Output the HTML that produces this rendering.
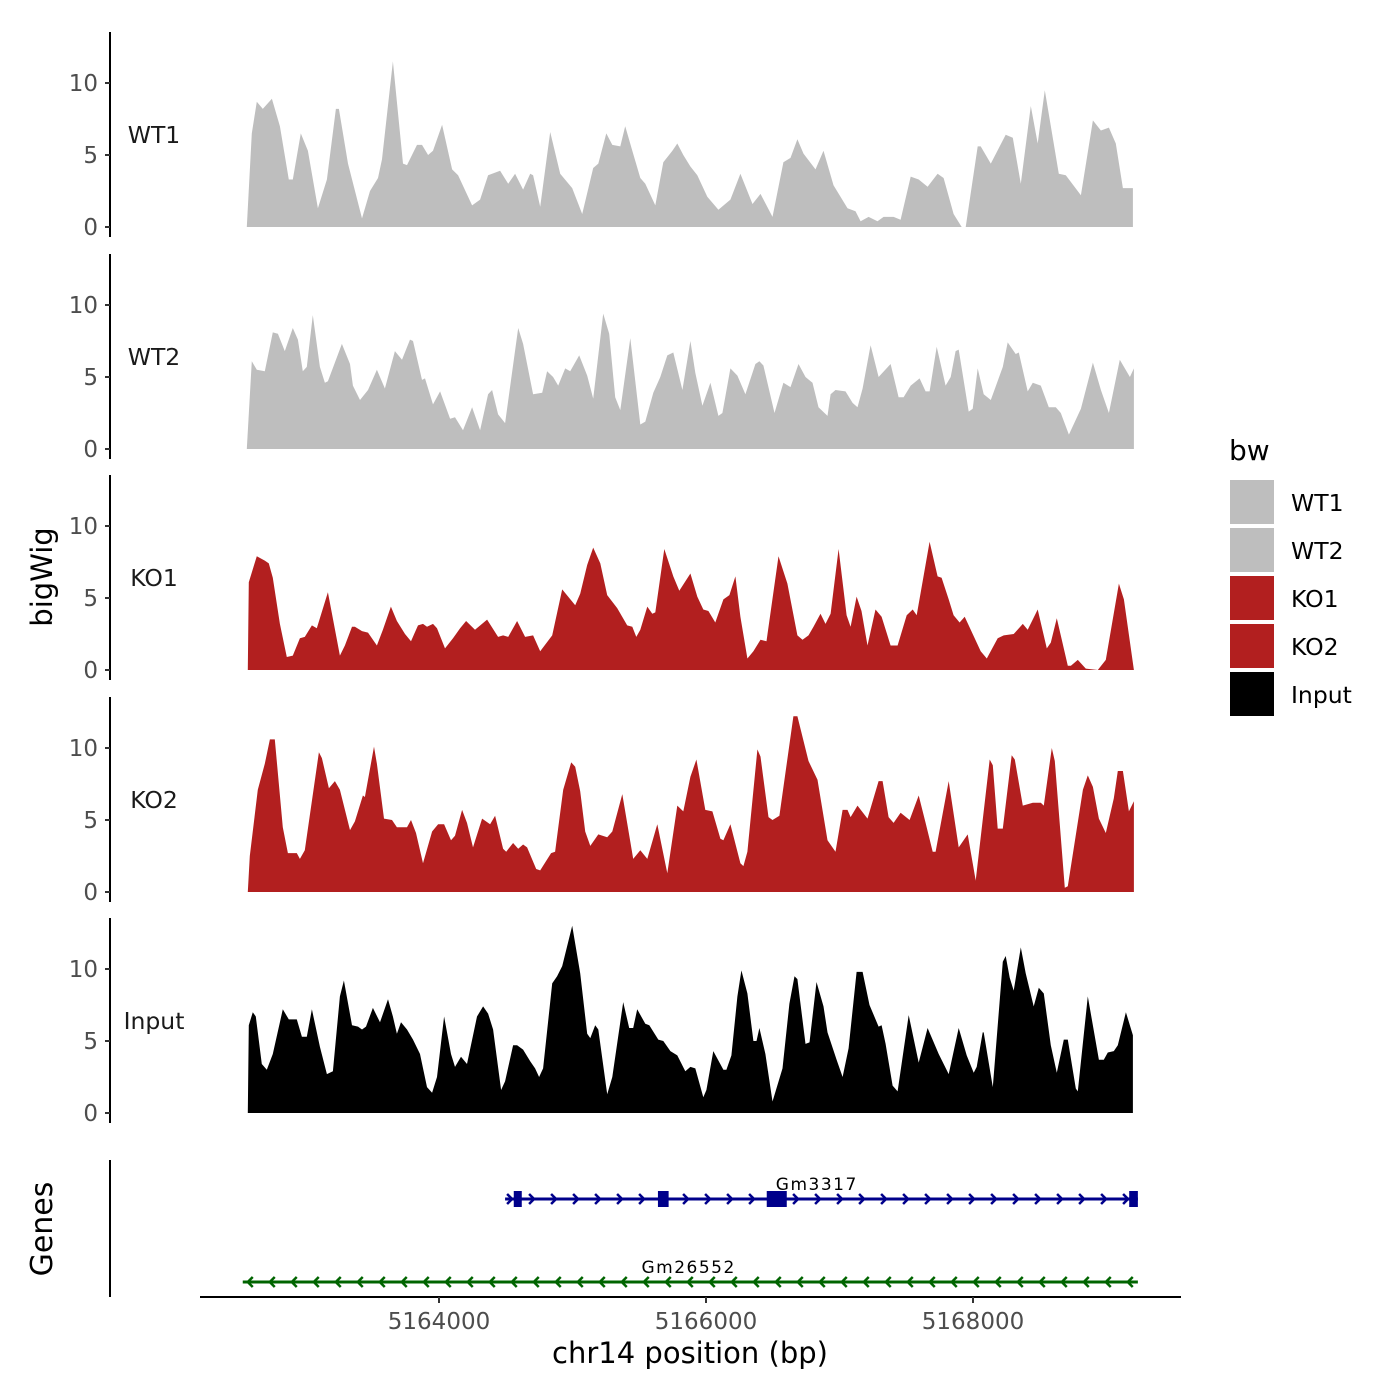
<!DOCTYPE html>
<html><head><meta charset="utf-8"><style>
html,body{margin:0;padding:0;background:#fff;}
svg{display:block;font-family:"DejaVu Sans","Liberation Sans",sans-serif;}
</style></head><body>
<svg id="chart" width="1400" height="1400" viewBox="0 0 1400 1400" xmlns="http://www.w3.org/2000/svg">
<rect x="0" y="0" width="1400" height="1400" fill="#fff"/>
<g id="tracks"></g>
<g id="genes"></g>
<text x="52" y="577" font-size="29" fill="#000" text-anchor="middle" transform="rotate(-90 52 577)">bigWig</text>
<text x="52" y="1229" font-size="30" fill="#000" text-anchor="middle" transform="rotate(-90 52 1229)">Genes</text>
<line x1="110" y1="1160" x2="110" y2="1297" stroke="#000" stroke-width="2"/>
<line x1="200" y1="1297" x2="1181" y2="1297" stroke="#000" stroke-width="2"/>
<g id="xticks"></g>
<text x="690" y="1363" font-size="29" fill="#000" text-anchor="middle">chr14 position (bp)</text>
<g id="legend">
<text x="1229" y="460" font-size="28" fill="#000">bw</text>
</g>
</svg>
<script>
const regionStart = 5162500;
const trackNames = ["WT1","WT2","KO1","KO2","Input"];
const trackColors = ["#bebebe","#bebebe","#b21f1f","#b21f1f","#000000"];
const yTicks = [0,5,10];
const xTickValues = [5164000,5166000,5168000];
const xTickLabels = ["5164000","5166000","5168000"];

const wt1Pos = [60,98,135,180,248,308,375,405,465,518,593,660,728,750,818,923,983,1043,1073,1155,1230,1260,1335,1373,1418,1455,1523,1598,1643,1748,1808,1868,1958,2018,2070,2130,2183,2205,2258,2333,2408,2498,2573,2655,2693,2753,2798,2858,2895,2948,3008,3045,3120,3180,3248,3285,3330,3383,3435,3510,3593,3683,3758,3848,3908,3998,4080,4133,4185,4230,4320,4380,4455,4560,4620,4658,4718,4785,4830,4905,4958,5033,5093,5160,5235,5280,5355,5415,5445,5535,5558,5633,5745,5798,5858,5933,5985,6038,6143,6195,6308,6398,6458,6518,6570,6623,6698];
const wt1Val = [0,6.5,8.7,8.2,8.9,7.0,3.3,3.3,6.5,5.3,1.3,3.3,8.2,8.2,4.4,0.6,2.5,3.4,4.7,11.5,4.4,4.3,5.7,5.7,5.0,5.3,7.1,4.0,3.6,1.5,1.9,3.6,3.9,3.0,3.7,2.6,3.7,3.6,1.4,6.6,3.7,2.7,0.9,4.1,4.4,6.5,5.7,5.6,7.0,5.3,3.4,3.0,1.5,4.5,5.3,5.8,5.0,4.2,3.6,2.1,1.2,1.9,3.7,1.6,2.3,0.7,4.5,4.8,6.1,5.1,4.0,5.3,2.9,1.3,1.1,0.4,0.7,0.4,0.7,0.7,0.5,3.5,3.3,2.8,3.7,3.4,0.9,0,0,5.6,5.6,4.4,6.4,6.2,3.0,8.4,5.8,9.5,3.7,3.6,2.2,7.4,6.7,6.9,5.8,2.7,2.7];

const wt2Pos = [60,98,135,195,255,293,345,405,443,480,510,555,608,645,668,773,833,855,908,968,1035,1095,1170,1223,1283,1305,1373,1395,1455,1508,1583,1620,1680,1748,1808,1868,1898,1943,1995,2093,2130,2205,2273,2310,2355,2393,2445,2483,2550,2610,2655,2730,2775,2820,2858,2933,3008,3045,3105,3158,3210,3255,3323,3383,3420,3473,3533,3593,3623,3683,3735,3795,3870,3900,3930,4013,4080,4133,4193,4245,4298,4343,4410,4433,4470,4545,4598,4635,4673,4733,4793,4883,4943,4980,5033,5100,5145,5175,5228,5295,5333,5370,5393,5468,5498,5535,5580,5633,5723,5760,5820,5843,5910,5948,6008,6068,6120,6158,6218,6308,6398,6458,6518,6600,6675,6705];
const wt2Val = [0,6.1,5.5,5.4,8.1,8.0,6.8,8.4,7.6,5.4,5.7,9.3,5.7,4.6,4.7,7.3,5.9,4.4,3.4,4.1,5.5,4.2,6.8,6.2,7.6,7.5,4.8,4.9,3.1,4.0,2.1,2.2,1.3,2.9,1.3,3.8,4.1,2.4,1.8,8.4,7.3,3.8,3.9,5.4,5.0,4.4,5.6,5.4,6.5,5.1,3.5,9.4,8.0,3.6,2.7,7.7,1.7,1.9,3.9,5.0,6.5,6.7,4.1,7.5,5.3,3.0,4.6,2.3,2.5,5.6,5.1,3.8,5.9,6.1,5.8,2.5,4.6,4.3,5.9,5.0,4.6,2.9,2.3,3.8,4.1,4.0,3.2,2.9,4.2,7.2,5.0,5.9,3.6,3.6,4.4,4.9,4.0,4.0,7.1,4.4,5.0,6.8,6.9,2.6,2.8,5.6,3.8,3.4,5.7,7.4,6.6,6.7,4.0,4.6,4.4,2.9,2.9,2.5,1.0,2.8,6.0,4.1,2.5,6.2,5.0,5.6];

const ko1Pos = [68,75,135,195,225,255,308,360,405,458,495,548,585,668,758,795,848,870,923,968,1035,1080,1140,1185,1245,1290,1343,1380,1410,1455,1485,1545,1605,1658,1703,1770,1860,1943,1980,2018,2085,2145,2205,2258,2348,2423,2520,2558,2610,2655,2708,2760,2835,2910,2948,2978,3008,3060,3098,3120,3188,3255,3300,3383,3435,3480,3518,3570,3630,3675,3720,3758,3810,3855,3908,3953,4043,4110,4185,4223,4268,4305,4358,4395,4433,4493,4553,4583,4628,4665,4710,4770,4815,4883,4935,5003,5048,5078,5175,5235,5265,5318,5355,5400,5438,5558,5603,5685,5730,5805,5873,5910,5985,6053,6083,6128,6210,6233,6285,6345,6435,6495,6593,6630,6705];
const ko1Val = [0,6.1,7.9,7.6,7.4,6.4,3.2,0.9,1.0,2.2,2.3,3.1,2.9,5.4,1.0,1.7,3.0,3.0,2.7,2.6,1.7,2.8,4.4,3.4,2.5,2.0,3.1,3.2,3.0,3.2,2.9,1.5,2.2,2.9,3.4,2.8,3.5,2.3,2.4,2.3,3.4,2.3,2.4,1.3,2.4,5.6,4.5,5.3,7.3,8.5,7.4,5.2,4.3,3.1,3.0,2.3,2.8,4.4,3.9,4.0,8.4,6.5,5.5,6.7,5.1,4.2,4.1,3.3,4.9,5.2,6.5,3.7,0.8,1.3,2.1,2.0,7.9,6.0,2.4,2.1,2.4,3.0,3.9,3.2,3.9,8.4,3.8,3.0,5.1,4.1,1.7,4.2,3.7,1.7,1.7,3.8,4.2,3.8,8.9,6.5,6.4,4.9,3.8,3.3,3.7,1.3,0.8,2.2,2.4,2.5,3.2,2.8,4.2,1.5,1.9,3.6,0.3,0.3,0.7,0.1,0,0.7,6.0,4.9,0];

const ko2Pos = [68,83,143,195,233,270,330,368,435,458,495,600,623,675,720,758,833,870,930,945,1013,1035,1088,1148,1185,1260,1290,1328,1380,1448,1493,1538,1590,1620,1673,1710,1755,1823,1883,1920,1980,2003,2055,2093,2130,2160,2228,2258,2340,2370,2430,2490,2520,2558,2595,2633,2693,2760,2798,2873,2955,3008,3060,3135,3210,3285,3330,3383,3428,3495,3548,3608,3630,3683,3758,3780,3810,3885,3908,3968,3998,4050,4155,4185,4268,4335,4410,4470,4523,4560,4583,4635,4710,4793,4823,4868,4905,4958,5025,5093,5145,5198,5220,5318,5393,5460,5520,5625,5648,5685,5723,5790,5813,5873,5948,6008,6030,6090,6113,6188,6210,6323,6360,6398,6443,6495,6555,6585,6623,6668,6705];
const ko2Val = [0,2.5,7.1,8.9,10.6,10.6,4.5,2.7,2.7,2.3,2.9,9.7,9.3,7.2,7.7,7.1,4.3,4.9,6.7,6.6,10.1,8.9,5.1,5.0,4.5,4.5,5.0,4.1,2.0,4.2,4.7,4.7,3.6,3.9,5.7,4.8,3.1,5.1,4.7,5.3,3.0,2.8,3.4,3.0,3.3,3.1,1.6,1.5,2.7,2.8,7.1,9.0,8.7,7.0,4.2,3.2,4.0,3.8,4.2,6.8,2.3,2.9,2.3,4.7,1.3,6.0,5.6,8.0,9.2,5.7,5.6,3.7,3.6,4.7,2.0,1.8,2.8,9.9,9.4,5.2,5.0,5.3,12.2,12.2,9.1,7.8,3.6,2.8,5.7,5.7,5.2,6.0,5.1,7.7,7.7,5.2,4.8,5.5,5.0,6.7,4.8,2.8,2.8,7.7,3.1,4.0,0.8,9.2,8.8,4.4,4.4,9.5,9.2,6.0,6.2,6.2,6.0,10.0,9.1,0.3,0.4,7.1,8.1,7.3,5.1,4.1,6.5,8.4,8.4,5.6,6.3];

const inputPos = [68,75,105,128,173,210,255,330,375,435,473,510,548,608,660,705,758,788,848,893,923,953,1005,1058,1118,1155,1185,1215,1260,1305,1358,1410,1448,1485,1538,1590,1620,1665,1710,1785,1830,1868,1905,1965,1995,2055,2085,2130,2183,2220,2250,2280,2348,2385,2423,2498,2558,2610,2633,2670,2693,2760,2798,2880,2925,2955,2985,3045,3075,3143,3180,3233,3285,3345,3383,3420,3480,3503,3555,3630,3653,3690,3735,3765,3810,3855,3878,3900,3945,3998,4073,4125,4163,4185,4245,4275,4328,4380,4410,4478,4523,4568,4628,4673,4725,4793,4815,4845,4898,4935,5018,5093,5160,5243,5318,5393,5453,5505,5528,5573,5580,5648,5723,5745,5775,5805,5858,5895,5955,5993,6030,6083,6128,6180,6210,6270,6285,6360,6443,6480,6510,6555,6585,6645,6698];
const inputVal = [0,6.1,7.0,6.7,3.4,3.0,4.1,7.2,6.5,6.5,5.3,5.3,7.2,4.6,2.7,2.9,8.1,9.2,6.1,6.0,5.8,6.0,7.3,6.3,7.9,6.7,5.5,6.3,5.8,5.1,4.1,1.8,1.4,2.5,6.7,4.1,3.2,3.9,3.4,6.7,7.4,6.9,5.8,1.6,2.2,4.7,4.7,4.4,3.6,3.1,2.5,3.1,9.0,9.5,10.2,13.0,9.7,5.5,5.2,6.1,5.8,1.3,2.5,7.7,5.9,5.9,7.2,6.2,6.1,5.1,5.0,4.3,4.0,2.9,3.2,3.1,1.1,1.6,4.3,3.0,3.0,4.0,8.1,9.9,8.3,5.0,5.0,5.9,4.1,0.8,3.1,7.6,9.5,9.3,4.8,4.9,9.1,7.4,5.6,3.7,2.5,4.5,9.8,9.8,7.5,6.0,6.1,4.8,1.9,1.5,6.8,3.5,5.9,4.1,2.7,5.9,4.0,2.8,3.2,5.6,5.6,1.8,10.5,10.9,9.4,8.5,11.5,9.7,7.4,8.7,8.3,4.7,2.8,5.1,5.1,1.7,1.5,8.1,3.7,3.7,4.2,4.3,4.7,7.0,5.4];

const trackPos = [wt1Pos, wt2Pos, ko1Pos, ko2Pos, inputPos];
const trackVal = [wt1Val, wt2Val, ko1Val, ko2Val, inputVal];

const geneNames = ["Gm3317","Gm26552"];
const geneStarts = [5164495, 5162530];
const geneEnds = [5169235, 5169235];
const geneStrands = ["+","-"];
const geneColors = ["#00008b","#006400"];
const exonGene = [0,0,0,0];
const exonStarts = [5164560,5165640,5166455,5169170];
const exonEnds = [5164620,5165720,5166605,5169235];

const NS = "http://www.w3.org/2000/svg";
function mk(tag, attrs, parent){const e=document.createElementNS(NS,tag);for(const k in attrs)e.setAttribute(k,attrs[k]);parent.appendChild(e);return e;}
function xScale(bp){return 439 + (bp - 5164000) * 267 / 2000;}
const panelBase = [227, 449, 670, 892, 1113];
const pxPerUnit = 14.4;
function yScale(i, v){return panelBase[i] - v * pxPerUnit;}

const tracks = document.getElementById('tracks');
for (let i = 0; i < trackNames.length; i++) {
  const g = mk('g', {}, tracks);
  
  
  const pos = trackPos[i], val = trackVal[i];
  const n = Math.min(pos.length, val.length);
  let d = 'M' + xScale(regionStart + pos[0]).toFixed(1) + ',' + yScale(i, 0);
  for (let k = 0; k < n; k++) d += 'L' + xScale(regionStart + pos[k]).toFixed(1) + ',' + yScale(i, val[k]).toFixed(1);
  d += 'L' + xScale(regionStart + pos[n-1]).toFixed(1) + ',' + yScale(i, 0) + 'Z';
  const area = mk('path', {d: d, fill: trackColors[i], 'stroke-linejoin':'round'}, g);
  
  
  const top = panelBase[i] - 195, bot = panelBase[i] + 10;
  const ax = mk('line', {x1:110, y1:top, x2:110, y2:bot, stroke:'#000', 'stroke-width':2}, g);
  
  
  for (const t of yTicks) {
    const y = yScale(i, t);
    const tk = mk('line', {x1:105, y1:y, x2:110, y2:y, stroke:'#333', 'stroke-width':2}, g);
    
    
    const tl = mk('text', {x:98, y:y+8, 'font-size':23, fill:'#4d4d4d', 'text-anchor':'end'}, g);
    tl.textContent = String(t);
    
    
  }
  const lab = mk('text', {x:154, y:panelBase[i] - 84, 'font-size':23.5, fill:'#1a1a1a', 'text-anchor':'middle'}, g);
  lab.textContent = trackNames[i];
  
  
}

const genes = document.getElementById('genes');
const geneY = [1199, 1282];
for (let i = 0; i < geneNames.length; i++) {
  const g = mk('g', {}, genes);
  
  
  const x1 = xScale(geneStarts[i]), x2 = xScale(geneEnds[i]), y = geneY[i], c = geneColors[i];
  const ln = mk('line', {x1:x1, y1:y, x2:x2, y2:y, stroke:c, 'stroke-width':3}, g);
  
  
  let d = '';
  for (let x = x1 + 6; x < x2 - 4; x += 22) {
    if (geneStrands[i] === '+') d += 'M' + (x-4) + ',' + (y-5) + 'L' + (x+1) + ',' + y + 'L' + (x-4) + ',' + (y+5);
    else d += 'M' + (x+4) + ',' + (y-5) + 'L' + (x-1) + ',' + y + 'L' + (x+4) + ',' + (y+5);
  }
  const ar = mk('path', {d:d, fill:'none', stroke:c, 'stroke-width':2.5}, g);
  
  
  const lt = mk('text', {x:(i===0? xScale(5166830): xScale(5165870)), y:y-9, 'font-size':17, fill:'#000', 'text-anchor':'middle', 'letter-spacing':'1.5'}, g);
  lt.textContent = geneNames[i];
  
  
}
for (let k = 0; k < exonStarts.length; k++) {
  const gi = exonGene[k];
  const x1 = xScale(exonStarts[k]), x2 = xScale(exonEnds[k]);
  const ex = mk('rect', {x:x1, y:geneY[gi]-8, width:Math.max(x2-x1, 8), height:16, fill:geneColors[gi]}, genes);
  
  
}

const xt = document.getElementById('xticks');
for (let k = 0; k < xTickValues.length; k++) {
  const x = xScale(xTickValues[k]);
  const t = mk('line', {x1:x, y1:1297, x2:x, y2:1303, stroke:'#333', 'stroke-width':2}, xt);
  
  
  const l = mk('text', {x:x, y:1329, 'font-size':23, fill:'#4d4d4d', 'text-anchor':'middle'}, xt);
  l.textContent = xTickLabels[k];
  
  
}

const lg = document.getElementById('legend');
for (let i = 0; i < trackNames.length; i++) {
  const y = 480 + i * 48;
  const r = mk('rect', {x:1230, y:y, width:44, height:44, fill:trackColors[i]}, lg);
  
  
  const t = mk('text', {x:1291, y:y+31, 'font-size':23.5, fill:'#000'}, lg);
  t.textContent = trackNames[i];
  
  
}
</script>
</body></html>
